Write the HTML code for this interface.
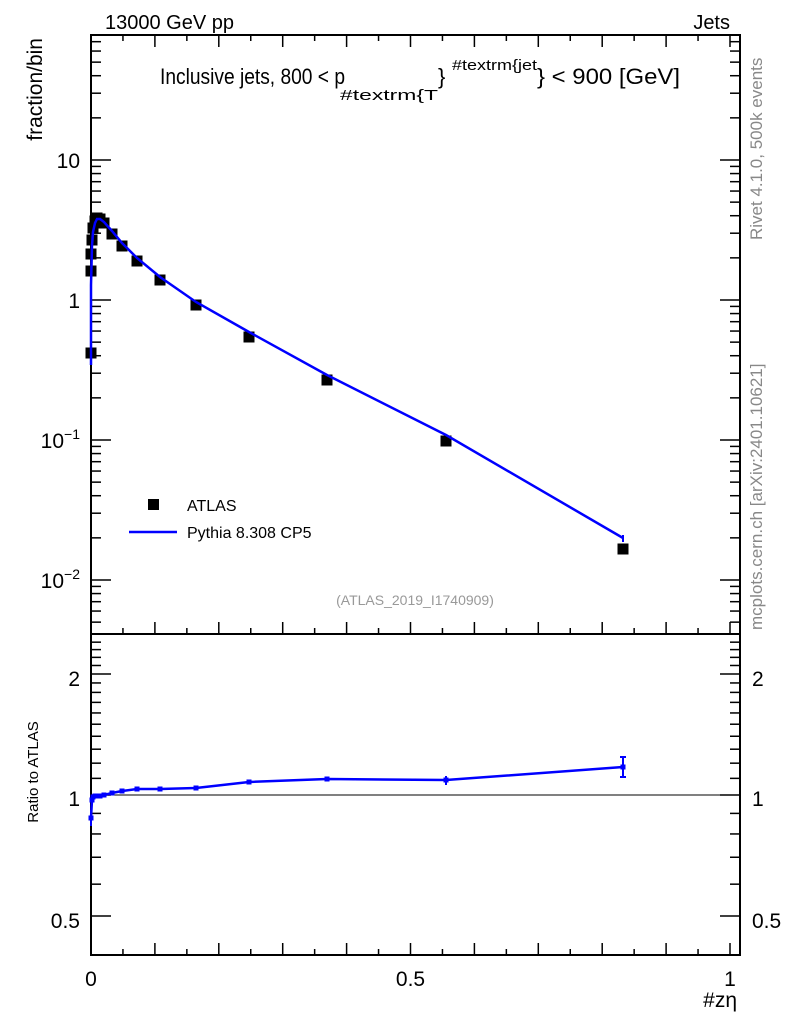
<!DOCTYPE html>
<html><head><meta charset="utf-8"><style>body{margin:0;background:#fff}svg{display:block;font-family:"Liberation Sans",sans-serif}</style></head>
<body>
<svg id="s" width="786" height="1024" viewBox="0 0 786 1024" xmlns="http://www.w3.org/2000/svg">
<rect width="786" height="1024" fill="#fff"/>
<text x="105" y="29" font-size="20">13000 GeV pp</text>
<text x="730" y="29" font-size="20" text-anchor="end">Jets</text>
<text x="160" y="84" font-size="22" textLength="185" lengthAdjust="spacingAndGlyphs">Inclusive jets, 800 &lt; p</text>
<text x="340" y="100" font-size="15" textLength="98" lengthAdjust="spacingAndGlyphs">#textrm{T</text>
<text x="438" y="84" font-size="22">}</text>
<text x="452" y="70" font-size="15" textLength="85" lengthAdjust="spacingAndGlyphs">#textrm{jet</text>
<text x="537" y="84" font-size="22" textLength="143" lengthAdjust="spacingAndGlyphs">} &lt; 900 [GeV]</text>
<text transform="translate(42,38) rotate(-90)" font-size="21" text-anchor="end">fraction/bin</text>
<text transform="translate(38,772) rotate(-90)" font-size="15" text-anchor="middle">Ratio to ATLAS</text>
<text transform="translate(762,240) rotate(-90)" font-size="17" fill="#888">Rivet 4.1.0,  500k events</text>
<text transform="translate(762,630) rotate(-90)" font-size="17" fill="#888">mcplots.cern.ch [arXiv:2401.10621]</text>
<text x="415" y="605" font-size="14" fill="#999" text-anchor="middle">(ATLAS_2019_I1740909)</text>
<text x="737" y="1007" font-size="21" text-anchor="end">#zη</text>
<rect x="148" y="499" width="11" height="11" fill="#000"/>
<text x="187" y="511" font-size="16">ATLAS</text>
<line x1="129" y1="532" x2="177" y2="532" stroke="#00f" stroke-width="2.5"/>
<text x="187" y="538" font-size="16">Pythia 8.308 CP5</text>
<g id="g"></g>
</svg>
<script>
var g=document.getElementById('g'),h='';
var L=91,R=740,T=35,M=634,B=955;
function X(v){return L+v*639;}
function line(a,b,c,d,w,col){h+='<line x1="'+a+'" y1="'+b+'" x2="'+c+'" y2="'+d+'" stroke="'+(col||'#000')+'" stroke-width="'+(w||1)+'"/>';}
function txt(x,y,s,t,a){h+='<text x="'+x+'" y="'+y+'" font-size="'+s+'" text-anchor="'+(a||'end')+'">'+t+'</text>';}
h+='<rect x="'+L+'" y="'+T+'" width="'+(R-L)+'" height="'+(B-T)+'" fill="none" stroke="#000" stroke-width="2"/>';
line(L,M,R,M,2);
for(var i=0;i<=20;i++){var x=X(i*0.05);var len=(i%2==0)?12:6;
 line(x,M,x,M-len,1.5);line(x,B,x,B-len,1.5);line(x,T,x,T+len,1.5);}
txt(X(0),986,21,'0','middle');txt(X(0.5),986,21,'0.5','middle');txt(X(1),986,21,'1','middle');
function Y(v){return 300-140*Math.log10(v);}
for(var d=-3;d<=1;d++){for(var k=1;k<10;k++){var v=k*Math.pow(10,d);var y=Y(v);if(y<T||y>M)continue;var len=k==1?20:10;line(L,y,L+len,y,1.5);line(R,y,R-len,y,1.5);}}
txt(80,168,21,'10');txt(80,308,21,'1');
h+='<text x="80" y="448" font-size="21" text-anchor="end">10<tspan dy="-9" font-size="14">−1</tspan></text>';
h+='<text x="80" y="588" font-size="21" text-anchor="end">10<tspan dy="-9" font-size="14">−2</tspan></text>';
function RY(v){return 795-121*Math.log2(v);}
var rt=[0.5,0.6,0.7,0.8,0.9,1,1.1,1.2,1.3,1.4,1.5,1.6,1.7,1.8,1.9,2,2.1,2.2,2.3,2.4];
rt.forEach(function(v){var y=RY(v);if(y<M||y>B)return;var len=(v==0.5||v==1||v==2)?20:10;line(L,y,L+len,y,1.5);line(R,y,R-len,y,1.5);});
txt(80,686,21,'2');txt(80,806,21,'1');txt(80,928,21,'0.5');
txt(752,686,21,'2','start');txt(752,806,21,'1','start');txt(752,928,21,'0.5','start');
line(L,795,R,795,1);
var D=[[91,353],[91,271],[91,254],[92,240],[93,228],[95,221],[97,218],[100,219],[104,223],[112,234],[122,246],[137,261],[160,280],[196,305],[249,337],[327,380],[446,441],[623,549]];
var RR=[[91,818],[92,800],[93,797],[95,796],[97,796],[100,796],[104,795],[112,793],[122,791],[137,789],[160,789],[196,788],[249,782],[327,779],[446,780],[623,767]];
var ml=[[91,365],[91,285],[92,246],[93,232],[95,223],[97,219],[100,219],[104,222],[112,231],[122,243],[137,258],[160,277],[196,302],[249,332],[327,375],[446,435],[623,538]];
var p='';ml.forEach(function(a,i){p+=(i?'L':'M')+a[0]+' '+a[1];});
D.forEach(function(a){h+='<rect x="'+(a[0]-5.5)+'" y="'+(a[1]-5.5)+'" width="11" height="11" fill="#000"/>';});
h+='<path d="'+p+'" fill="none" stroke="#00f" stroke-width="2.5"/>';
line(623,535,623,542,2,'#00f');
var q='';RR.forEach(function(a,i){q+=(i?'L':'M')+a[0]+' '+a[1];h+='<rect x="'+(a[0]-2.5)+'" y="'+(a[1]-2.5)+'" width="5" height="5" fill="#00f"/>';});
h+='<path d="'+q+'" fill="none" stroke="#00f" stroke-width="2.5"/>';
line(623,757,623,777,2,'#00f');line(620,757,626,757,2,'#00f');line(620,777,626,777,2,'#00f');
line(446,776,446,785,2,'#00f');line(91,810,91,826,2,'#00f');
g.innerHTML=h;
</script>
</body></html>
